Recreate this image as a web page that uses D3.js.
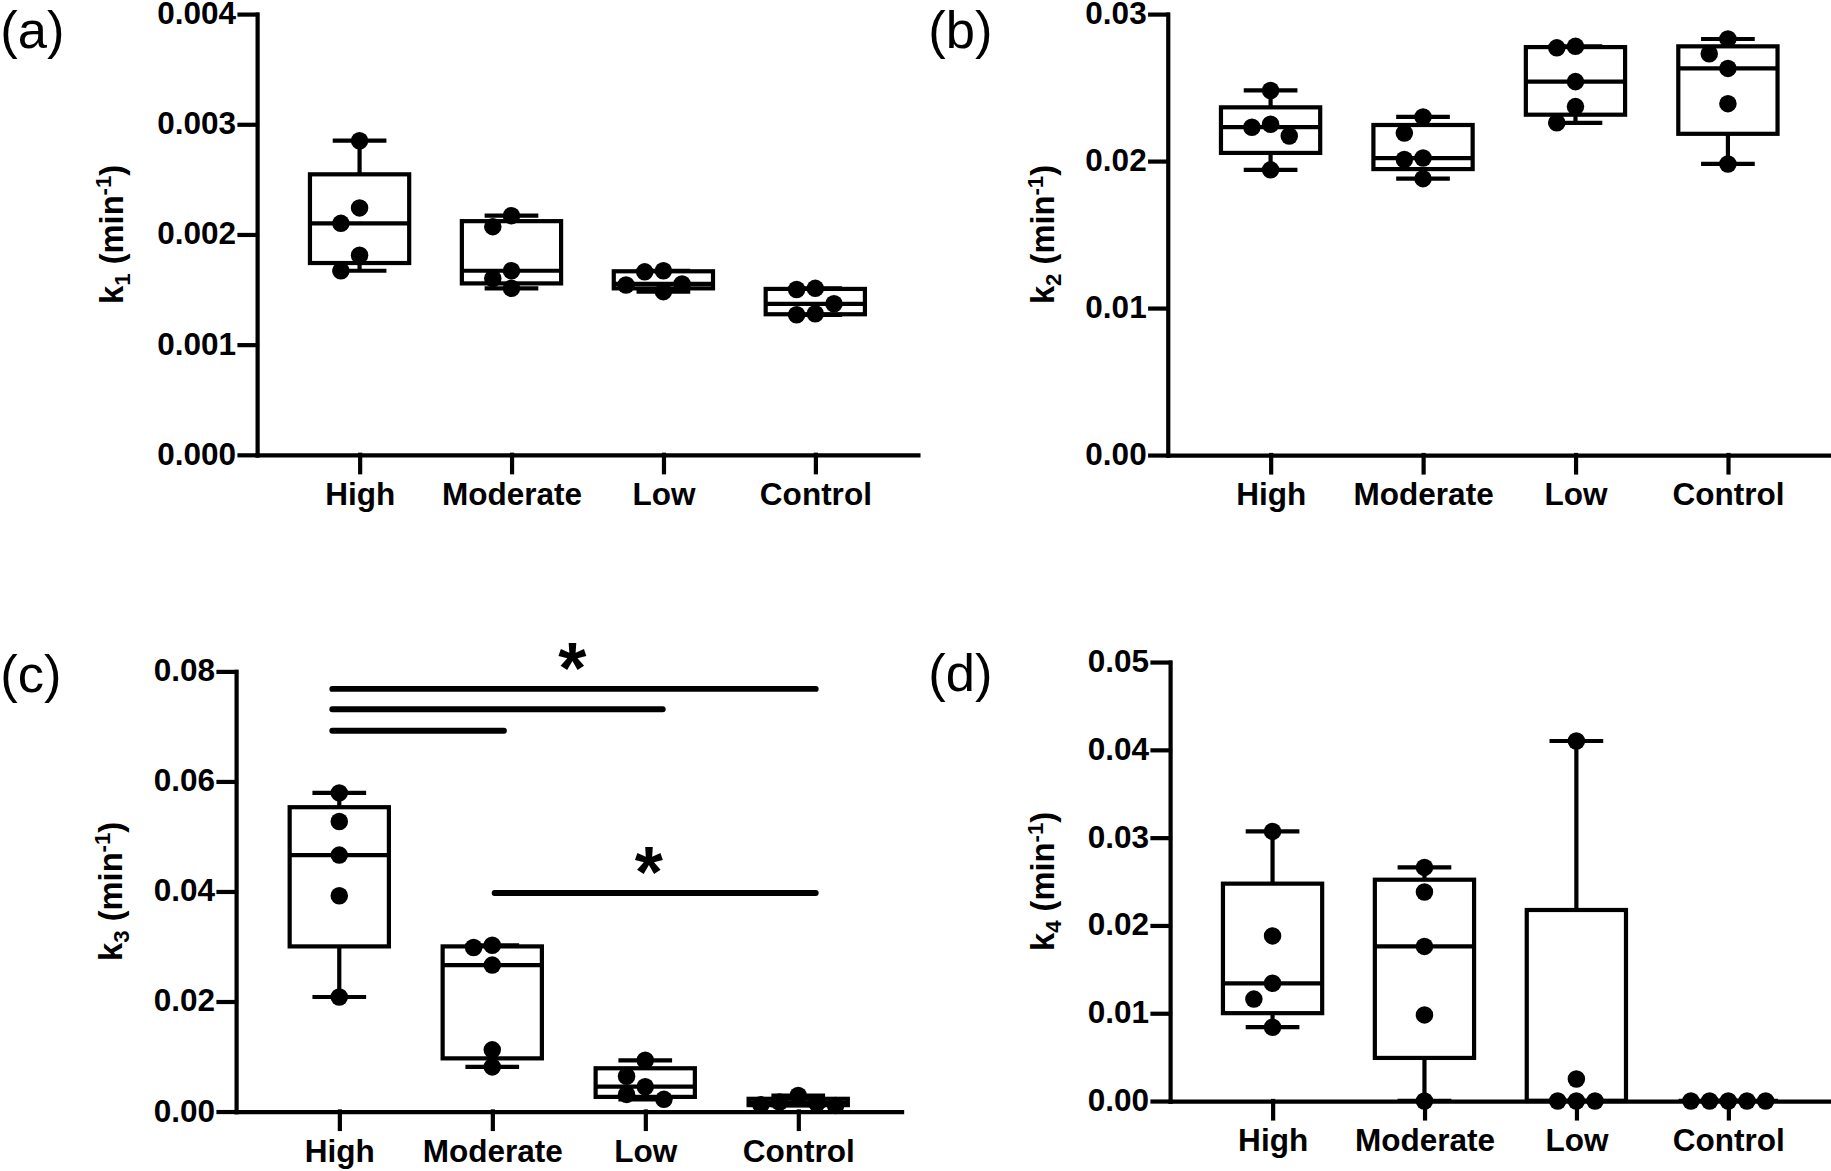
<!DOCTYPE html>
<meta charset="utf-8">
<body style="margin:0;background:#fff">
<div id="chart"></div>
<style>
  text { font-family: "Liberation Sans", Arial, sans-serif; }
</style>
<script src="https://cdn.jsdelivr.net/npm/d3@7"></script>
<script>
// ---- data ----
var categories = ["High", "Moderate", "Low", "Control"];

var k1Values = [
  [0.00285, 0.00224, 0.00210, 0.00181, 0.00167],
  [0.00217, 0.00207, 0.00167, 0.00160, 0.00151],
  [0.00167, 0.00166, 0.00155, 0.00154, 0.00148],
  [0.00151, 0.00150, 0.00137, 0.00128, 0.00127]
];
var k2Values = [
  [0.0248, 0.0225, 0.0223, 0.0217, 0.0194],
  [0.0230, 0.0219, 0.0202, 0.0201, 0.0188],
  [0.0278, 0.0277, 0.0254, 0.0237, 0.0226],
  [0.0283, 0.0273, 0.0263, 0.0239, 0.0198]
];
var k3Values = [
  [0.0579, 0.0527, 0.0466, 0.0392, 0.0208],
  [0.0302, 0.0298, 0.0266, 0.0112, 0.0081],
  [0.0093, 0.0064, 0.0045, 0.0031, 0.0022],
  [0.0029, 0.0017, 0.0015, 0.0012, 0.0011]
];
var k4Values = [
  [0.0307, 0.0188, 0.0134, 0.0116, 0.0084],
  [0.0266, 0.0238, 0.0176, 0.0098, 0.0],
  [0.0410, 0.0025, 0.0, 0.0, 0.0],
  [0.0, 0.0, 0.0, 0.0, 0.0]
];

var k1Ticks = [0, 0.001, 0.002, 0.003, 0.004];
var k2Ticks = [0, 0.01, 0.02, 0.03];
var k3Ticks = [0, 0.02, 0.04, 0.06, 0.08];
var k4Ticks = [0, 0.01, 0.02, 0.03, 0.04, 0.05];

// significance bars in panel (c)
var sigFrom = ["High", "High", "High", "Moderate"];
var sigTo = ["Control", "Low", "Moderate", "Control"];
var sigY = [0.0768, 0.0731, 0.0692, 0.0397];
var sigStar = [true, false, false, true];

// ---- layout (drawing units, scaled to the window by viewBox) ----
var W = 1568, H = 1003;
var svg = d3.select("#chart").append("svg")
    .attr("width", 1831)
    .attr("height", 1171)
    .attr("viewBox", "0 0 " + W + " " + H);

var panels = [
  {tag: "(a)", sub: "1", values: k1Values, ticks: k1Ticks, fmt: ".3f",
   x0: 220, x1: 786, yTop: 12, yBot: 389.5, tagX: 0, tagY: 41, labX: 105},
  {tag: "(b)", sub: "2", values: k2Values, ticks: k2Ticks, fmt: ".2f",
   x0: 1000, x1: 1568, yTop: 12, yBot: 389.7, tagX: 795, tagY: 41, labX: 903},
  {tag: "(c)", sub: "3", values: k3Values, ticks: k3Ticks, fmt: ".2f",
   x0: 202, x1: 772, yTop: 575, yBot: 952, tagX: 0, tagY: 593, labX: 104, sig: true},
  {tag: "(d)", sub: "4", values: k4Values, ticks: k4Ticks, fmt: ".2f",
   x0: 1002, x1: 1568, yTop: 567, yBot: 943, tagX: 795, tagY: 592, labX: 903}
];

var SW = 3.6, R = 7.5, boxW = 85, capW = 46, fs = 27;

// quartile with the (n+1)p rule
function quart(sorted, p) {
  var pos = (sorted.length + 1) * p - 1;
  var lo = Math.floor(pos), hi = Math.ceil(pos);
  lo = Math.max(0, Math.min(sorted.length - 1, lo));
  hi = Math.max(0, Math.min(sorted.length - 1, hi));
  return sorted[lo] + (sorted[hi] - sorted[lo]) * (pos - Math.floor(pos));
}

// simple swarm: offsets 0, -a, +a, -2a ... until no dot overlaps
function swarm(ys) {
  var a = 16, placed = [];
  var order = ys.map(function(y, i){ return i; })
    .sort(function(i, j){ return ys[i] - ys[j]; });
  var out = new Array(ys.length);
  order.forEach(function(i) {
    for (var k = 0; k < 20; k++) {
      var off = k === 0 ? 0 : (k % 2 ? -1 : 1) * Math.ceil(k / 2) * a;
      var ok = placed.every(function(p) {
        return Math.hypot(p[0] - off, p[1] - ys[i]) >= 14;
      });
      if (ok) { placed.push([off, ys[i]]); out[i] = off; break; }
    }
  });
  return out;
}

panels.forEach(function(p) {
  var g = svg.append("g");
  var y = d3.scaleLinear().domain(d3.extent(p.ticks)).range([p.yBot, p.yTop]);
  var x = d3.scalePoint().domain(categories).range([p.x0, p.x1]).padding(0.675);

  // axes
  var ya = g.append("g").attr("transform", "translate(" + p.x0 + ",0)")
    .call(d3.axisLeft(y).tickValues(p.ticks).tickFormat(d3.format(p.fmt))
      .tickSize(15).tickSizeOuter(0).tickPadding(3));
  var xa = g.append("g").attr("transform", "translate(0," + p.yBot + ")")
    .call(d3.axisBottom(x).tickSize(15).tickSizeOuter(0).tickPadding(9));
  [ya, xa].forEach(function(a) {
    a.selectAll("path, line").attr("stroke", "#000").attr("stroke-width", SW)
      .attr("stroke-linecap", "square");
    a.selectAll("text").attr("fill", "#000").attr("font-size", fs)
      .attr("font-weight", "bold").style("font-family", "'Liberation Sans', Arial, sans-serif");
  });
  // keep the top tick label inside the picture
  ya.selectAll(".tick text").attr("dy", "0.3em");

  // boxes
  categories.forEach(function(c, ci) {
    var vals = p.values[ci].slice().sort(d3.ascending);
    var q1 = quart(vals, 0.25), med = quart(vals, 0.5), q3 = quart(vals, 0.75);
    var mn = vals[0], mx = vals[vals.length - 1];
    var cx = x(c);
    var bg = g.append("g").attr("stroke", "#000").attr("stroke-width", SW).attr("fill", "none");
    bg.append("line").attr("x1", cx).attr("x2", cx).attr("y1", y(q3)).attr("y2", y(mx));
    bg.append("line").attr("x1", cx).attr("x2", cx).attr("y1", y(q1)).attr("y2", y(mn));
    bg.append("line").attr("x1", cx - capW / 2).attr("x2", cx + capW / 2).attr("y1", y(mx)).attr("y2", y(mx));
    bg.append("line").attr("x1", cx - capW / 2).attr("x2", cx + capW / 2).attr("y1", y(mn)).attr("y2", y(mn));
    bg.append("rect").attr("x", cx - boxW / 2).attr("width", boxW)
      .attr("y", y(q3)).attr("height", Math.max(0, y(q1) - y(q3)));
    bg.append("line").attr("x1", cx - boxW / 2).attr("x2", cx + boxW / 2).attr("y1", y(med)).attr("y2", y(med));

    var ys = p.values[ci].map(function(v){ return y(v); });
    var offs = swarm(ys);
    g.selectAll(null).data(p.values[ci]).enter().append("circle")
      .attr("cx", function(d, i){ return cx + offs[i]; })
      .attr("cy", function(d){ return y(d); })
      .attr("r", R).attr("fill", "#000");
  });

  // significance bars
  if (p.sig) {
    sigY.forEach(function(v, i) {
      var xa1 = x(sigFrom[i]) - (sigFrom[i] === "High" ? 6 : -2);
      var xb = x(sigTo[i]) + (sigTo[i] === "Moderate" ? 10 : 15);
      g.append("line").attr("x1", xa1).attr("x2", xb).attr("y1", y(v)).attr("y2", y(v))
        .attr("stroke", "#000").attr("stroke-width", 5).attr("stroke-linecap", "round");
      if (sigStar[i]) {
        var sfs = 62;
        // asterisk ink centre sits about 0.48em above the baseline
        g.append("text").text("*").attr("font-size", sfs).attr("font-weight", "bold")
          .attr("text-anchor", "middle")
          .attr("x", (x(sigFrom[i]) + x(sigTo[i])) / 2 + 3)
          .attr("y", y(v) - 26 + 0.48 * sfs);
      }
    });
  }

  // panel tag
  svg.append("text").text(p.tag).attr("x", p.tagX).attr("y", p.tagY)
    .attr("font-size", 45).attr("fill", "#000");

  // y label
  var lab = svg.append("text")
    .attr("transform", "translate(" + p.labX + "," + ((p.yTop + p.yBot) / 2) + ") rotate(-90)")
    .attr("text-anchor", "middle").attr("font-size", 28).attr("font-weight", "bold");
  lab.append("tspan").text("k");
  lab.append("tspan").text(p.sub).attr("font-size", 19).attr("dy", 6);
  lab.append("tspan").text(" (min").attr("dy", -6);
  lab.append("tspan").text("-1").attr("font-size", 19).attr("dy", -10);
  lab.append("tspan").text(")").attr("dy", 10);
});
</script>
</body>
